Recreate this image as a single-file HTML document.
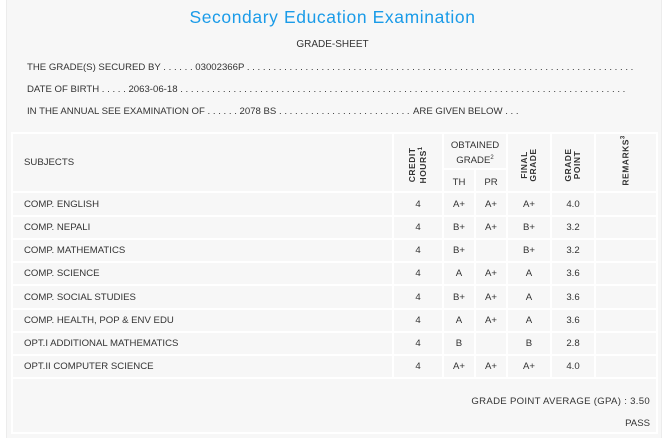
<!DOCTYPE html>
<html><head><meta charset="utf-8"><style>
*{margin:0;padding:0;box-sizing:border-box}
body{width:665px;height:438px;background:#fff;font-family:"Liberation Sans",sans-serif;color:#333;position:relative;overflow:hidden}
.outer{position:absolute;left:6px;top:0;width:656px;height:438px;background:#f7f7f7;border-left:1px solid #ececec;border-right:1px solid #ececec}
.t{position:absolute;white-space:nowrap;font-size:9.6px;letter-spacing:0}
.d{position:absolute;white-space:nowrap;font-size:9.6px;overflow:hidden}
.h{position:absolute;background:#fff;height:2px}
.v{position:absolute;background:#fff;width:2px}
.c{position:absolute;font-size:9.6px;text-align:center;white-space:nowrap}
.rot{position:absolute;font-size:8.5px;font-weight:bold;transform:rotate(-90deg);transform-origin:center;text-align:center;line-height:9px;letter-spacing:0.5px}
</style></head><body>
<div class="outer"></div>
<div class="t" style="left:0;width:665px;text-align:center;top:7px;font-size:17.5px;letter-spacing:0.6px;color:#1a9be8">Secondary Education Examination</div>
<div class="t" style="left:0;width:665px;text-align:center;top:39px;font-size:10px">GRADE-SHEET</div>
<div class="d" style="left:27px;top:62px;width:606px">THE GRADE(S) SECURED BY . . . . . . 03002366P . . . . . . . . . . . . . . . . . . . . . . . . . . . . . . . . . . . . . . . . . . . . . . . . . . . . . . . . . . . . . . . . . . . . . . . . . . . . . . . . . . . . . . . . .</div>
<div class="d" style="left:27px;top:84px;width:601px">DATE OF BIRTH . . . . . 2063-06-18 . . . . . . . . . . . . . . . . . . . . . . . . . . . . . . . . . . . . . . . . . . . . . . . . . . . . . . . . . . . . . . . . . . . . . . . . . . . . . . . . . . . . . . . . . . . . .</div>
<div class="d" style="left:27px;top:106px;width:385px">IN THE ANNUAL SEE EXAMINATION OF . . . . . . 2078 BS . . . . . . . . . . . . . . . . . . . . . . . . . . . . . . . . . . . . . . . . . . . . . . . . . . . . . . . . .</div>
<div class="t" style="left:413px;top:106px">ARE GIVEN BELOW . . .</div>

<div class="h" style="left:12px;width:646px;top:132px"></div>
<div class="h" style="left:443px;width:64px;top:168px"></div>
<div class="h" style="left:12px;width:646px;top:191px"></div>
<div class="h" style="left:12px;width:646px;top:215px"></div>
<div class="h" style="left:12px;width:646px;top:238px"></div>
<div class="h" style="left:12px;width:646px;top:261px"></div>
<div class="h" style="left:12px;width:646px;top:284px"></div>
<div class="h" style="left:12px;width:646px;top:308px"></div>
<div class="h" style="left:12px;width:646px;top:331px"></div>
<div class="h" style="left:12px;width:646px;top:354px"></div>
<div class="h" style="left:12px;width:646px;top:377px"></div>
<div class="h" style="left:12px;width:646px;top:432px"></div>
<div class="v" style="left:11px;top:132px;height:302px"></div>
<div class="v" style="left:656px;top:132px;height:302px"></div>
<div class="v" style="left:392px;top:132px;height:246px"></div>
<div class="v" style="left:442px;top:132px;height:246px"></div>
<div class="v" style="left:474px;top:168px;height:210px"></div>
<div class="v" style="left:506px;top:132px;height:246px"></div>
<div class="v" style="left:550px;top:132px;height:246px"></div>
<div class="v" style="left:594px;top:132px;height:246px"></div>

<div class="t" style="left:24px;top:157px">SUBJECTS</div>
<div class="rot" style="left:388px;top:155px;width:60px">CREDIT<br>HOURS<sup style="font-size:6px">1</sup></div>
<div class="c" style="left:443px;width:64px;top:140px;line-height:12px">OBTAINED<br>GRADE<sup style="font-size:6px">2</sup></div>
<div class="c" style="left:443px;width:32px;top:177px">TH</div>
<div class="c" style="left:475px;width:32px;top:177px">PR</div>
<div class="rot" style="left:499px;top:156px;width:60px">FINAL<br>GRADE</div>
<div class="rot" style="left:543px;top:156px;width:60px">GRADE<br>POINT</div>
<div class="rot" style="left:595px;top:155px;width:60px">REMARKS<sup style="font-size:6px">3</sup></div>

<div class="t" style="left:24px;top:199px">COMP. ENGLISH</div>
<div class="t" style="left:24px;top:222px">COMP. NEPALI</div>
<div class="t" style="left:24px;top:245px">COMP. MATHEMATICS</div>
<div class="t" style="left:24px;top:268px">COMP. SCIENCE</div>
<div class="t" style="left:24px;top:292px">COMP. SOCIAL STUDIES</div>
<div class="t" style="left:24px;top:315px">COMP. HEALTH, POP &amp; ENV EDU</div>
<div class="t" style="left:24px;top:338px">OPT.I ADDITIONAL MATHEMATICS</div>
<div class="t" style="left:24px;top:361px">OPT.II COMPUTER SCIENCE</div>

<div class="c" style="left:393px;width:50px;top:199px">4</div><div class="c" style="left:443px;width:32px;top:199px">A+</div><div class="c" style="left:475px;width:32px;top:199px">A+</div><div class="c" style="left:507px;width:44px;top:199px">A+</div><div class="c" style="left:551px;width:44px;top:199px">4.0</div>
<div class="c" style="left:393px;width:50px;top:222px">4</div><div class="c" style="left:443px;width:32px;top:222px">B+</div><div class="c" style="left:475px;width:32px;top:222px">A+</div><div class="c" style="left:507px;width:44px;top:222px">B+</div><div class="c" style="left:551px;width:44px;top:222px">3.2</div>
<div class="c" style="left:393px;width:50px;top:245px">4</div><div class="c" style="left:443px;width:32px;top:245px">B+</div><div class="c" style="left:507px;width:44px;top:245px">B+</div><div class="c" style="left:551px;width:44px;top:245px">3.2</div>
<div class="c" style="left:393px;width:50px;top:268px">4</div><div class="c" style="left:443px;width:32px;top:268px">A</div><div class="c" style="left:475px;width:32px;top:268px">A+</div><div class="c" style="left:507px;width:44px;top:268px">A</div><div class="c" style="left:551px;width:44px;top:268px">3.6</div>
<div class="c" style="left:393px;width:50px;top:292px">4</div><div class="c" style="left:443px;width:32px;top:292px">B+</div><div class="c" style="left:475px;width:32px;top:292px">A+</div><div class="c" style="left:507px;width:44px;top:292px">A</div><div class="c" style="left:551px;width:44px;top:292px">3.6</div>
<div class="c" style="left:393px;width:50px;top:315px">4</div><div class="c" style="left:443px;width:32px;top:315px">A</div><div class="c" style="left:475px;width:32px;top:315px">A+</div><div class="c" style="left:507px;width:44px;top:315px">A</div><div class="c" style="left:551px;width:44px;top:315px">3.6</div>
<div class="c" style="left:393px;width:50px;top:338px">4</div><div class="c" style="left:443px;width:32px;top:338px">B</div><div class="c" style="left:507px;width:44px;top:338px">B</div><div class="c" style="left:551px;width:44px;top:338px">2.8</div>
<div class="c" style="left:393px;width:50px;top:361px">4</div><div class="c" style="left:443px;width:32px;top:361px">A+</div><div class="c" style="left:475px;width:32px;top:361px">A+</div><div class="c" style="left:507px;width:44px;top:361px">A+</div><div class="c" style="left:551px;width:44px;top:361px">4.0</div>

<div class="t" style="right:15px;top:396px;letter-spacing:0.3px">GRADE POINT AVERAGE (GPA) : 3.50</div>
<div class="t" style="right:15px;top:418px">PASS</div>
</body></html>
